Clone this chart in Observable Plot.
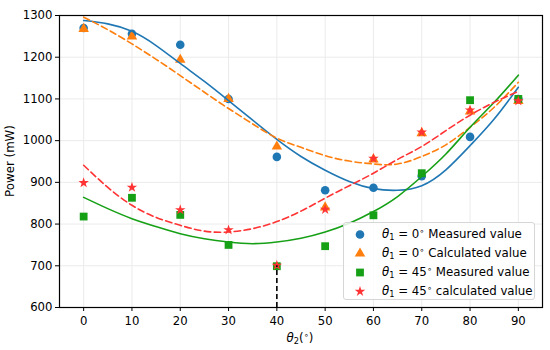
<!DOCTYPE html>
<html>
<head>
<meta charset="utf-8">
<script src="https://cdn.jsdelivr.net/npm/d3@7"></script>
<script src="https://cdn.jsdelivr.net/npm/@observablehq/plot@0.6"></script>
<style>
  body { margin: 0; background: #fff; }
  #wrap { position: relative; width: 550px; height: 350px; font-family: "DejaVu Sans", sans-serif; color: #000; }
  #wrap svg { display: block; }
  .ylab { position: absolute; left: 10px; top: 161px; font-size: 11.8px; white-space: nowrap; transform: translate(-50%, -50%) rotate(-90deg); }
  .xlab { position: absolute; left: 300px; top: 338px; font-size: 11.8px; white-space: nowrap; transform: translate(-50%, -50%); }
  .legend { position: absolute; left: 343px; top: 222px; width: 192px; height: 78px; box-sizing: border-box;
            background: rgba(255,255,255,0.85); border: 1px solid #d6d6d6; border-radius: 3px; font-size: 11.8px; }
  .row { position: absolute; left: 0; height: 19px; display: flex; align-items: center; white-space: nowrap; }
  .row svg { width: 20px; height: 19px; margin-left: 6px; }
  .row span { margin-left: 12px; }
  sub { font-size: 70%; vertical-align: -0.25em; line-height: 0; }
  sup { font-size: 70%; vertical-align: 0.5em; line-height: 0; }
</style>
</head>
<body>
<div id="wrap"></div>
<script>
// ---- data ----
const theta2 = [0, 10, 20, 30, 40, 50, 60, 70, 80, 90];
const measured0 = [1270, 1256, 1230, 1100, 961, 881, 887, 915, 1009, 1100];
const calculated0 = [1268, 1250, 1194, 1100, 986, 840, 955, 1018, 1070, 1095];
const measured45 = [818, 863, 822, 750, 699, 747, 821, 922, 1097, 1100];
const calculated45 = [899, 888, 834, 786, 701, 835, 957, 1020, 1073, 1095];

const fitX = [0, 5, 10, 15, 20, 25, 30, 35, 40, 45, 50, 55, 60, 65, 70, 75, 80, 85, 90];
const fitMeasured0 = [1288, 1280, 1262, 1228, 1185, 1142, 1096, 1049, 1003, 962, 929, 902, 885, 881, 892, 930, 988, 1052, 1128];
const fitCalculated0 = [1296, 1266, 1232, 1195, 1156, 1116, 1077, 1040, 1006, 984, 964, 951, 944, 944, 962, 990, 1032, 1080, 1140];
const fitMeasured45 = [864, 837, 813, 794, 777, 765, 757, 753, 757, 766, 781, 802, 830, 866, 914, 968, 1032, 1092, 1157];
const fitCalculated45 = [941, 888, 845, 816, 797, 783, 781, 789, 806, 831, 862, 892, 922, 955, 986, 1024, 1061, 1092, 1118];

const markerLine = [{x: 40, y1: 600, y2: 700}];
const xTicks = [0, 10, 20, 30, 40, 50, 60, 70, 80, 90];
const yTicks = [600, 700, 800, 900, 1000, 1100, 1200, 1300];

const legendLabels = [
  '<i>θ</i><sub>1</sub> = 0<sup>∘</sup> Measured value',
  '<i>θ</i><sub>1</sub> = 0<sup>∘</sup> Calculated value',
  '<i>θ</i><sub>1</sub> = 45<sup>∘</sup> Measured value',
  '<i>θ</i><sub>1</sub> = 45<sup>∘</sup> calculated value'
];

// ---- styles ----
const C = {blue: "#1f77b4", orange: "#ff7f0e", green: "#16a016", red: "#ff3333"};
const series = [
  {vals: measured0, symbol: "circle", r: 4.3, color: C.blue},
  {vals: calculated0, symbol: "triangle", r: 3.9, color: C.orange},
  {vals: measured45, symbol: "square", r: 4.4, color: C.green},
  {vals: calculated45, symbol: "star", r: 3.3, color: C.red}
];
const fits = [
  {vals: fitMeasured0, color: C.blue, dash: null},
  {vals: fitCalculated0, color: C.orange, dash: "6.5,3.5"},
  {vals: fitMeasured45, color: C.green, dash: null},
  {vals: fitCalculated45, color: C.red, dash: "6.5,3.5"}
];

const marks = [
  Plot.gridX(xTicks, {stroke: "#ebebeb", strokeOpacity: 1}),
  Plot.gridY(yTicks, {stroke: "#ebebeb", strokeOpacity: 1})
];
for (const s of series) {
  const d = theta2.map((x, i) => ({x, y: s.vals[i]}));
  marks.push(Plot.dot(d, {x: "x", y: "y", symbol: () => s.symbol, r: s.r, fill: s.color, stroke: "none"}));
}
for (const f of fits) {
  const d = fitX.map((x, i) => ({x, y: f.vals[i]}));
  const o = {x: "x", y: "y", stroke: f.color, strokeWidth: 1.6, curve: "natural"};
  if (f.dash) o.strokeDasharray = f.dash;
  marks.push(Plot.line(d, o));
}
marks.push(Plot.ruleX(markerLine, {x: "x", y1: "y1", y2: "y2", stroke: "black", strokeWidth: 1.6, strokeDasharray: "5,3"}));
marks.push(Plot.axisX(xTicks, {tickSize: 4, tickPadding: 5, label: null, fontSize: 11.7, tickFormat: d => String(d)}));
marks.push(Plot.axisY(yTicks, {tickSize: 4, tickPadding: 3, label: null, fontSize: 11.7, tickFormat: d => String(d)}));
marks.push(Plot.frame({stroke: "black", strokeWidth: 1.2}));

const chart = Plot.plot({
  width: 550, height: 350,
  marginLeft: 59, marginRight: 8, marginTop: 15, marginBottom: 43,
  style: {fontFamily: "DejaVu Sans", fontSize: "11.7px", color: "black", background: "white"},
  x: {domain: [-5, 95]},
  y: {domain: [600, 1300]},
  marks
});

const wrap = document.getElementById("wrap");
wrap.appendChild(chart);

const yl = document.createElement("div"); yl.className = "ylab"; yl.textContent = "Power (mW)"; wrap.appendChild(yl);
const xl = document.createElement("div"); xl.className = "xlab"; xl.innerHTML = "<i>θ</i><sub>2</sub>(<sup>∘</sup>)"; wrap.appendChild(xl);

const lg = document.createElement("div"); lg.className = "legend"; wrap.appendChild(lg);
const symMap = {circle: d3.symbolCircle, triangle: d3.symbolTriangle, square: d3.symbolSquare, star: d3.symbolStar};
series.forEach((s, i) => {
  const row = document.createElement("div");
  row.className = "row";
  row.style.top = (1.5 + i * 19) + "px";
  const path = d3.symbol(symMap[s.symbol], Math.PI * s.r * s.r)();
  row.innerHTML = `<svg viewBox="-10 -9.5 20 19"><path d="${path}" fill="${s.color}"/></svg><span>${legendLabels[i]}</span>`;
  lg.appendChild(row);
});
</script>
</body>
</html>
